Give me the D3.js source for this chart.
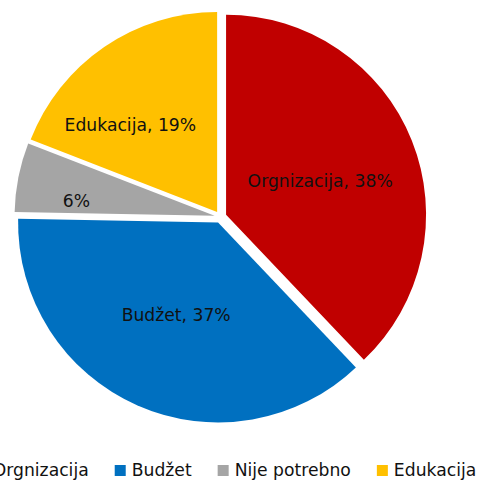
<!DOCTYPE html>
<html>
<head>
<meta charset="utf-8">
<script src="https://cdn.jsdelivr.net/npm/d3@7"></script>
<style>
  html, body { margin: 0; padding: 0; background: #ffffff; }
  svg { display: block; }
  text { font-family: "DejaVu Sans", "Noto Sans", sans-serif; fill: #111111; }
</style>
</head>
<body>
<svg id="chart" width="480" height="480"></svg>
<script>
// ---- data ----
const categories = ["Orgnizacija", "Budžet", "Nije potrebno", "Edukacija"];
const values = [37.9, 37.4, 5.6, 19.1];
const colors = ["#C00000", "#0070C0", "#A5A5A5", "#FFC000"];
const showCategoryInLabel = [true, true, false, true];

// ---- layout ----
const W = 480, H = 480;
const cx = 220.5, cy = 217, R = 200, explode = 6;
const fontSize = 17.2;
// label placement: fraction of radius and angle shift (deg) from mid-angle
const labelPlace = [
  { f: 0.50, shift: 2 },
  { f: 0.51, shift: 0.5 },
  { f: 0.695, shift: -5 },
  { f: 0.615, shift: -10.5 }
];

const svg = d3.select("#chart");
const data = categories.map((c, i) => ({ cat: c, value: values[i], color: colors[i], idx: i }));

const pie = d3.pie().value(d => d.value).sort(null).startAngle(0).endAngle(2 * Math.PI);
const arcs = pie(data);
const arc = d3.arc().innerRadius(0).outerRadius(R);

const g = svg.append("g").attr("transform", `translate(${cx},${cy})`);

const slices = g.selectAll("g.slice").data(arcs).join("g")
  .attr("class", "slice")
  .attr("transform", d => {
    const m = (d.startAngle + d.endAngle) / 2;
    return `translate(${Math.sin(m) * explode},${-Math.cos(m) * explode})`;
  });

slices.append("path")
  .attr("d", arc)
  .attr("fill", d => d.data.color);

const total = d3.sum(values);
slices.append("text")
  .attr("text-anchor", "middle")
  .attr("dominant-baseline", "central")
  .attr("font-size", fontSize)
  .attr("transform", d => {
    const p = labelPlace[d.data.idx];
    const m = (d.startAngle + d.endAngle) / 2 + p.shift * Math.PI / 180;
    const rr = R * p.f;
    return `translate(${Math.sin(m) * rr},${-Math.cos(m) * rr})`;
  })
  .text(d => {
    const pct = Math.round(d.data.value / total * 100) + "%";
    return showCategoryInLabel[d.data.idx] ? `${d.data.cat}, ${pct}` : pct;
  });

// ---- legend ----
const sq = 11, sqGap = 6, itemGap = 26, legendBaseline = 476;
const legend = svg.append("g");
const items = legend.selectAll("g.item").data(data).join("g").attr("class", "item");
items.append("rect")
  .attr("width", sq).attr("height", sq)
  .attr("y", legendBaseline - sq)
  .attr("fill", d => d.color);
items.append("text")
  .attr("x", sq + sqGap)
  .attr("y", legendBaseline)
  .attr("font-size", fontSize)
  .text(d => d.cat);

let x = 0;
const widths = [];
items.each(function () {
  const tw = d3.select(this).select("text").node().getComputedTextLength();
  widths.push(sq + sqGap + tw);
});
const totalW = d3.sum(widths) + itemGap * (widths.length - 1);
const legendCenter = 226;
x = legendCenter - totalW / 2;
items.each(function (d, i) {
  d3.select(this).attr("transform", `translate(${x},0)`);
  x += widths[i] + itemGap;
});
</script>
</body>
</html>
